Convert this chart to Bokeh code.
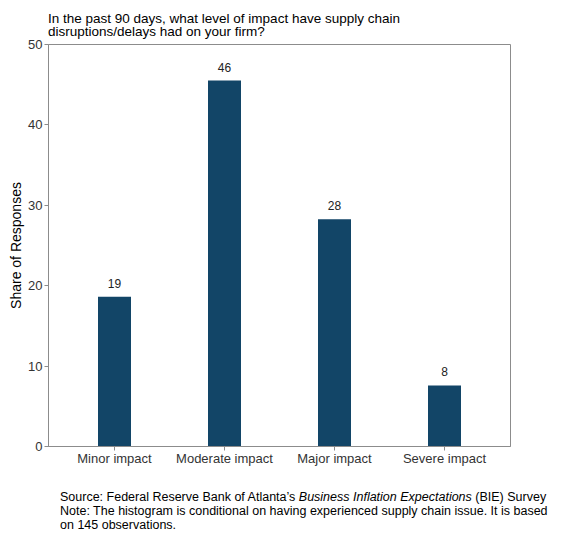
from bokeh.plotting import figure
from bokeh.models import Range1d, FactorRange, ColumnDataSource, FixedTicker, Div
from bokeh.layouts import column
from bokeh.core.properties import value
from bokeh.embed import file_html
from bokeh.resources import INLINE

categories = ["Minor impact", "Moderate impact", "Major impact", "Severe impact"]
shares = [18.62, 45.52, 28.28, 7.59]
share_labels = ["19", "46", "28", "8"]
y_ticks = [0, 10, 20, 30, 40, 50]

title_lines = ["In the past 90 days, what level of impact have supply chain",
               "disruptions/delays had on your firm?"]
source_parts = ["Source: Federal Reserve Bank of Atlanta\u2019s ",
                "Business Inflation Expectations",
                " (BIE) Survey"]
note_lines = ["Note: The histogram is conditional on having experienced supply chain issue. It is based",
              "on 145 observations."]

FONT = "Liberation Sans"
GRAY = "#8c8c8c"
BAR = "#124567"

src = ColumnDataSource(dict(cat=categories, val=shares, lab=share_labels))

p = figure(width=563, height=440, output_backend="svg", toolbar_location=None,
           x_range=FactorRange(factors=categories, range_padding=0.05),
           y_range=Range1d(0, 50),
           min_border_left=48, min_border_right=53, min_border_top=8, min_border_bottom=30)

p.vbar(x="cat", top="val", width=0.3, source=src, color=BAR, line_color=None)
p.text(x="cat", y="val", text="lab", source=src, text_align="center",
       text_baseline="bottom", y_offset=-9, text_font=value(FONT),
       text_font_size="12px", text_color="#222222")

p.xgrid.visible = False
p.ygrid.visible = False
p.outline_line_color = GRAY
p.outline_line_width = 1
p.background_fill_color = "white"
p.border_fill_color = None

p.yaxis.ticker = FixedTicker(ticks=y_ticks)
for ax in (p.xaxis[0], p.yaxis[0]):
    ax.axis_line_color = GRAY
    ax.major_tick_line_color = GRAY
    ax.major_tick_out = 4
    ax.major_tick_in = 0
    ax.minor_tick_line_color = None
    ax.major_label_text_font = FONT
    ax.major_label_text_font_size = "13px"
    ax.major_label_text_color = "#333333"
p.yaxis.major_label_standoff = 2
p.xaxis.major_label_standoff = 0
p.yaxis.axis_label = "Share of Responses"
p.yaxis.axis_label_text_font = FONT
p.yaxis.axis_label_text_font_size = "14px"
p.yaxis.axis_label_text_font_style = "normal"
p.yaxis.axis_label_text_color = "#000000"
p.yaxis.axis_label_standoff = 1

line_style = ("display:block; height:13px; line-height:13px; white-space:nowrap; "
              "font-family:'Liberation Sans'; font-size:13.5px; color:#000;")
title_html = (
    '<div style="position:absolute; left:48px; top:12px;">'
    + "".join(f'<div style="{line_style}">{t}</div>' for t in title_lines)
    + "</div>"
)
title_div = Div(text=title_html, width=563, height=36, margin=(0, 0, 0, 0),
                styles={"overflow": "visible", "z-index": "1"})

fstyle = ("display:block; height:14px; line-height:14px; white-space:nowrap; "
          "font-family:'Liberation Sans'; font-size:12.5px; color:#000;")
footer_lines = [source_parts[0] + "<i>" + source_parts[1] + "</i>" + source_parts[2]] + note_lines
footer_html = (
    '<div style="position:absolute; left:60px; top:14px;">'
    + "".join(f'<div style="{fstyle}">{t}</div>' for t in footer_lines)
    + "</div>"
)
footer_div = Div(text=footer_html, width=563, height=65, margin=(0, 0, 0, 0))

layout = column(title_div, p, footer_div, spacing=0, margin=(0, 0, 0, 0))

open("out.html", "w").write(file_html(layout, INLINE))
